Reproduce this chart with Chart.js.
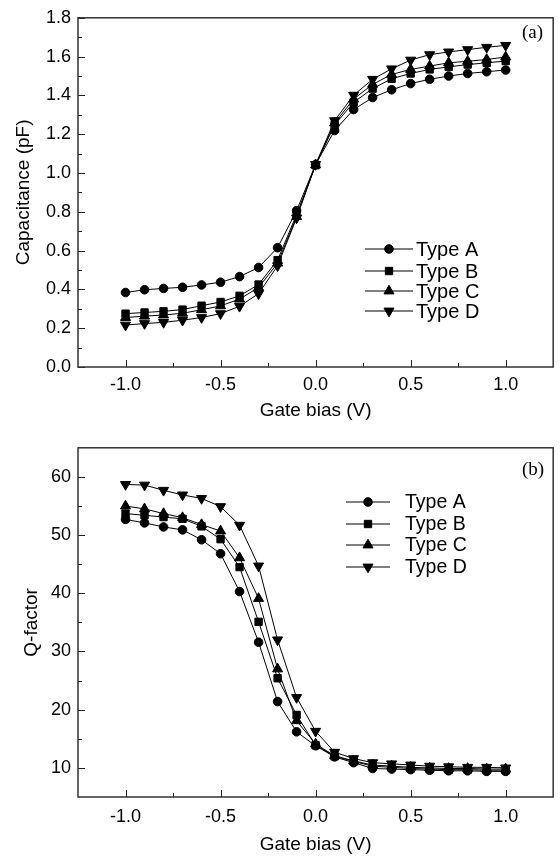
<!DOCTYPE html>
<html>
<head>
<meta charset="utf-8">
<script src="https://cdn.jsdelivr.net/npm/chart.js@4.4.0/dist/chart.umd.min.js"></script>
<style>
  html, body { margin: 0; padding: 0; background: #fff; overflow: hidden; }
  .panel { position: absolute; left: 0; width: 560px; height: 430px; }
  #top { top: 0; }
  #bottom { top: 430px; }
</style>
</head>
<body>
<div class="panel" id="top"><canvas id="capChart" width="560" height="430"></canvas></div>
<div class="panel" id="bottom"><canvas id="qChart" width="560" height="430"></canvas></div>
<script>
// Gate bias sweep shared by both panels
const BIAS = [-1.0, -0.9, -0.8, -0.7, -0.6, -0.5, -0.4, -0.3, -0.2, -0.1, 0.0,
              0.1, 0.2, 0.3, 0.4, 0.5, 0.6, 0.7, 0.8, 0.9, 1.0];
const TYPES = ['Type A', 'Type B', 'Type C', 'Type D'];

// (a) capacitance, pF
const CAP_A = [0.384, 0.398, 0.405, 0.411, 0.423, 0.437, 0.466, 0.513, 0.615, 0.806, 1.044,
               1.219, 1.327, 1.389, 1.429, 1.461, 1.483, 1.500, 1.513, 1.522, 1.531];
const CAP_B = [0.275, 0.281, 0.287, 0.296, 0.316, 0.335, 0.367, 0.425, 0.551, 0.786, 1.040,
               1.248, 1.364, 1.435, 1.486, 1.513, 1.534, 1.547, 1.559, 1.568, 1.577];
const CAP_C = [0.255, 0.262, 0.268, 0.277, 0.295, 0.315, 0.350, 0.410, 0.535, 0.775, 1.042,
               1.258, 1.381, 1.457, 1.508, 1.534, 1.551, 1.568, 1.576, 1.585, 1.598];
const CAP_D = [0.216, 0.224, 0.230, 0.241, 0.255, 0.275, 0.313, 0.378, 0.522, 0.768, 1.044,
               1.270, 1.401, 1.483, 1.537, 1.582, 1.610, 1.624, 1.636, 1.648, 1.658];

// (b) Q-factor
const Q_A = [52.7, 52.1, 51.4, 50.9, 49.2, 46.8, 40.3, 31.6, 21.4, 16.2, 13.8,
             11.9, 10.9, 9.9, 9.8, 9.7, 9.6, 9.5, 9.5, 9.4, 9.4];
const Q_B = [53.7, 53.4, 53.1, 52.8, 51.5, 49.3, 44.5, 35.1, 25.4, 19.1, 13.9,
             12.0, 11.1, 10.3, 10.1, 9.9, 9.8, 9.7, 9.7, 9.6, 9.6];
const Q_C = [55.0, 54.5, 53.7, 53.0, 51.8, 50.7, 46.1, 39.1, 27.0, 18.1, 14.1,
             12.1, 11.2, 10.5, 10.3, 10.1, 10.0, 9.9, 9.9, 9.8, 9.8];
const Q_D = [58.7, 58.6, 57.7, 56.9, 56.3, 54.9, 51.7, 44.7, 32.0, 22.1, 16.3,
             12.7, 11.6, 10.9, 10.7, 10.5, 10.3, 10.2, 10.1, 10.1, 10.0];

// tick labels / tick marks
const X_TICKS = [-1.0, -0.5, 0.0, 0.5, 1.0];
const X_MINOR = [-0.75, -0.25, 0.25, 0.75];
const CAP_TICKS = [0.0, 0.2, 0.4, 0.6, 0.8, 1.0, 1.2, 1.4, 1.6, 1.8];
const CAP_MINOR = [0.1, 0.3, 0.5, 0.7, 0.9, 1.1, 1.3, 1.5, 1.7];
const Q_TICKS = [10, 20, 30, 40, 50, 60];
const Q_MINOR = [15, 25, 35, 45, 55];

const MARKERS = [
    { pointStyle: 'circle', radius: 4.3, rotation: 0 },
    { pointStyle: 'rect', radius: 5.2, rotation: 0 },
    { pointStyle: 'triangle', radius: 5.8, rotation: 0 },
    { pointStyle: 'triangle', radius: 5.8, rotation: 180 },
];

const SANS = '"Liberation Sans", Arial, sans-serif';
Chart.defaults.font.family = SANS;
Chart.defaults.color = '#000';

function drawMarker(ctx, m, x, y) {
    if (Chart.helpers && Chart.helpers.drawPoint) {
        Chart.helpers.drawPoint(ctx, { pointStyle: m.pointStyle, rotation: m.rotation, radius: m.radius, borderWidth: 1 }, x, y);
        return;
    }
    ctx.beginPath();
    ctx.arc(x, y, m.radius, 0, Math.PI * 2);
    ctx.fill();
}

// frame around the plot area plus inward ticks on left/bottom
const frameTicks = {
    id: 'frameTicks',
    afterDraw(chart, args, opts) {
        const { ctx, chartArea: a, scales: { x, y } } = chart;
        ctx.save();
        ctx.strokeStyle = '#222';
        ctx.lineWidth = 1;
        const tick = (scale, values, len) => {
            values.forEach(v => {
                const p = Math.round(scale.getPixelForValue(v)) + 0.5;
                ctx.beginPath();
                if (scale.isHorizontal()) { ctx.moveTo(p, a.bottom); ctx.lineTo(p, a.bottom - len); }
                else { ctx.moveTo(a.left, p); ctx.lineTo(a.left + len, p); }
                ctx.stroke();
            });
        };
        tick(x, opts.xMajor, 7);
        tick(x, opts.xMinor, 4);
        tick(y, opts.yMajor, 7);
        tick(y, opts.yMinor, 4);
        ctx.lineWidth = 1.5;
        ctx.strokeStyle = '#333';
        ctx.strokeRect(a.left, a.top, a.right - a.left, a.bottom - a.top);
        ctx.restore();
    }
};

// legend in the style "line - marker - line   label", plus panel tag
const legendBox = {
    id: 'legendBox',
    afterDraw(chart, args, opts) {
        const { ctx } = chart;
        ctx.save();
        ctx.strokeStyle = '#000';
        ctx.fillStyle = '#000';
        ctx.lineWidth = 1;
        chart.data.datasets.forEach((ds, i) => {
            const yy = opts.rows[i];
            ctx.beginPath();
            ctx.moveTo(opts.x1, yy);
            ctx.lineTo(opts.x2, yy);
            ctx.stroke();
            drawMarker(ctx, MARKERS[i], (opts.x1 + opts.x2) / 2, yy);
            ctx.font = opts.size + 'px ' + SANS;
            ctx.textBaseline = 'middle';
            ctx.textAlign = 'left';
            ctx.fillText(ds.label, opts.tx, yy + 1);
        });
        ctx.font = '19px "Liberation Serif", "Times New Roman", serif';
        ctx.textAlign = 'left';
        ctx.textBaseline = 'middle';
        ctx.fillText(opts.tag, opts.tagX, opts.tagY);
        ctx.restore();
    }
};

function makeChart(canvasId, series, setup) {
    const datasets = series.map((vals, i) => ({
        label: TYPES[i],
        data: BIAS.map((b, k) => ({ x: b, y: vals[k] })),
        borderColor: '#000',
        borderWidth: 1,
        backgroundColor: '#000',
        pointBackgroundColor: '#000',
        pointBorderColor: '#000',
        pointBorderWidth: 1,
        pointStyle: MARKERS[i].pointStyle,
        pointRadius: MARKERS[i].radius,
        pointRotation: MARKERS[i].rotation,
        tension: 0,
        fill: false,
    }));

    return new Chart(document.getElementById(canvasId), {
        type: 'line',
        data: { datasets },
        plugins: [frameTicks, legendBox],
        options: {
            responsive: false,
            animation: false,
            devicePixelRatio: 1,
            layout: { padding: { left: 0, right: 6, top: 14, bottom: 0 } },
            plugins: {
                legend: { display: false },
                tooltip: { enabled: false },
                frameTicks: { xMajor: X_TICKS, xMinor: X_MINOR, yMajor: setup.yTicks, yMinor: setup.yMinor },
                legendBox: setup.legend,
            },
            scales: {
                x: {
                    type: 'linear',
                    min: -1.25,
                    max: 1.25,
                    grid: { display: false, drawTicks: false },
                    border: { display: false },
                    afterBuildTicks: s => { s.ticks = X_TICKS.map(value => ({ value })); },
                    afterFit: s => { s.height = 63; },
                    ticks: {
                        padding: setup.xTickPad,
                        font: { size: 18 },
                        maxRotation: 0,
                        callback: v => Number(v).toFixed(1),
                    },
                    title: {
                        display: true,
                        text: 'Gate bias (V)',
                        font: { size: 19 },
                        padding: { top: 0, bottom: setup.xTitlePad },
                    },
                },
                y: {
                    type: 'linear',
                    min: setup.yMin,
                    max: setup.yMax,
                    grid: { display: false, drawTicks: false },
                    border: { display: false },
                    afterBuildTicks: s => { s.ticks = setup.yTicks.map(value => ({ value })); },
                    afterFit: s => { s.width = 78; },
                    ticks: {
                        padding: 7,
                        font: { size: 18 },
                        callback: setup.yFmt,
                    },
                    title: {
                        display: true,
                        text: setup.yTitle,
                        font: { size: 19 },
                        padding: { top: setup.yTitlePad, bottom: 0 },
                    },
                },
            },
        },
    });
}

makeChart('capChart', [CAP_A, CAP_B, CAP_C, CAP_D], {
    yMin: 0, yMax: 1.8,
    yTicks: CAP_TICKS, yMinor: CAP_MINOR,
    yFmt: v => Number(v).toFixed(1),
    yTitle: 'Capacitance (pF)',
    yTitlePad: 12,
    xTickPad: 7,
    xTitlePad: 8,
    legend: { x1: 365, x2: 413, tx: 416, size: 20, rows: [249, 271, 291, 311], tag: '(a)', tagX: 522, tagY: 33 },
});

makeChart('qChart', [Q_A, Q_B, Q_C, Q_D], {
    yMin: 5, yMax: 65,
    yTicks: Q_TICKS, yMinor: Q_MINOR,
    yFmt: v => String(v),
    yTitle: 'Q-factor',
    yTitlePad: 20,
    xTickPad: 9,
    xTitlePad: 4,
    legend: { x1: 346, x2: 390, tx: 405, size: 19.5, rows: [72, 94, 115, 137], tag: '(b)', tagX: 522, tagY: 40 },
});
</script>
</body>
</html>
